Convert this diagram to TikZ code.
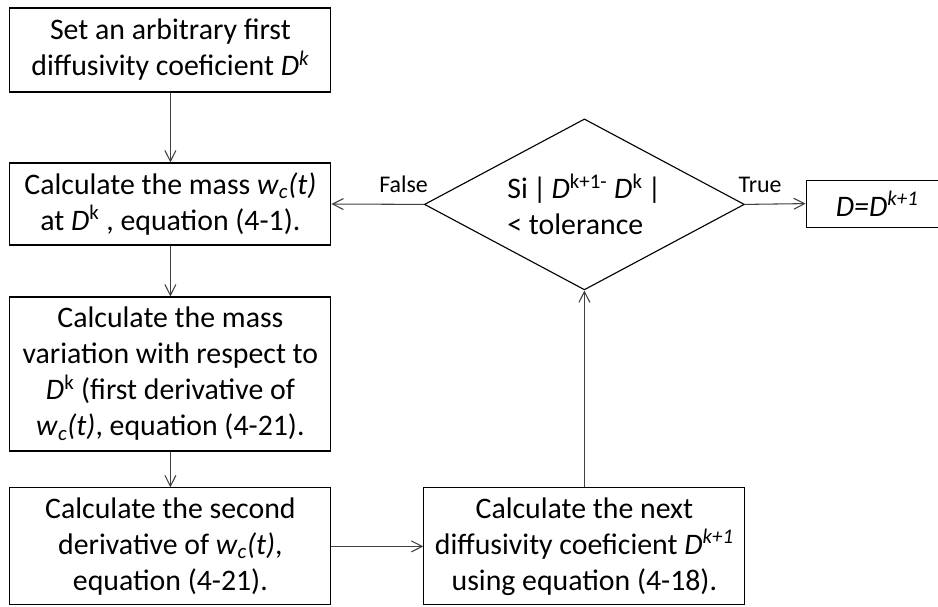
\documentclass[tikz,border=0pt]{standalone}
\usepackage{fontspec}
\setmainfont{Carlito}
\usetikzlibrary{shapes.geometric,arrows.meta}

\tikzset{
  stepbox/.style={draw, line width=0.8pt, minimum width=8.025cm, inner sep=0pt,
    align=center, font=\fontsize{21.2}{25.6}\selectfont},
  testbox/.style={draw, diamond, line width=0.8pt, aspect=1.87, minimum width=8cm,
    minimum height=4.275cm, inner sep=0pt, align=left, font=\fontsize{21.2}{25.6}\selectfont},
  flow/.style={draw=black!75, line width=0.75pt, -{Straight Barb[length=2.7mm,width=2.75mm]}},
  flowlabel/.style={font=\fontsize{17}{20}\selectfont, inner sep=8pt},
}

\begin{document}
\begin{tikzpicture}
\useasboundingbox (0,0) rectangle (23.45,-15.15);

% left column
\node[stepbox, minimum height=2.1cm] (init) at (4.26,-1.25)
  {Set an arbitrary first\\diffusivity coeficient \textit{D\textsuperscript{k}}};
\node[stepbox, minimum height=2.05cm] (mass) at (4.26,-5.1)
  {Calculate the mass \textit{w}\textsubscript{\textit{c}}\textit{(t)}\\at \textit{D}\textsuperscript{k} , equation (4-1).};
\node[stepbox, minimum height=3.85cm] (firstder) at (4.26,-9.35)
  {Calculate the mass\\variation with respect to\\\textit{D}\textsuperscript{k} (first derivative of\\\textit{w}\textsubscript{\textit{c}}\textit{(t)}, equation (4-21).};
\node[stepbox, minimum height=2.925cm] (secondder) at (4.26,-13.66)
  {Calculate the second\\derivative of \textit{w}\textsubscript{\textit{c}}\textit{(t)},\\equation (4-21).};

% right part
\node[stepbox, minimum height=2.925cm] (nextcoef) at (14.61,-13.66)
  {Calculate the next\\diffusivity coeficient \textit{D\textsuperscript{k+1}}\\using equation (4-18).};
\node[testbox] (check) at (14.61,-5.11)
  {Si\,|\,\textit{D}\textsuperscript{k+1-} \textit{D}\textsuperscript{k}\,|\\\textless{} tolerance};
\node[stepbox, minimum width=3.55cm, minimum height=1.175cm] (result) at (21.93,-5.09)
  {\textit{D=D\textsuperscript{k+1}}};

% connectors
\draw[flow] (init) -- (mass);
\draw[flow] (mass) -- (firstder);
\draw[flow] (firstder) -- (secondder);
\draw[flow] (secondder) -- (nextcoef);
\draw[flow] (nextcoef) -- (check);
\draw[flow] (check.west) -- node[flowlabel, pos=0.22, above] {False} (mass.east);
\draw[flow] (check.east) -- node[flowlabel, pos=0.25, above] {True} (result.west);

\end{tikzpicture}
\end{document}
